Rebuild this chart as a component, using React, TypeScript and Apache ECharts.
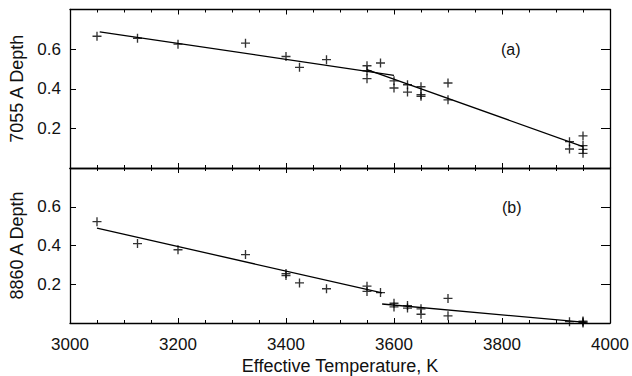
import { useEffect, useRef } from 'react';
import * as echarts from 'echarts';

// Panel (a): 7055 A depth vs effective temperature
const tempsA = [3050, 3125, 3200, 3325, 3400, 3425, 3475, 3550, 3550, 3550, 3575, 3600, 3600, 3625, 3625, 3650, 3650, 3650, 3700, 3700, 3925, 3925, 3950, 3950, 3950, 3950];
const depthsA = [0.665, 0.655, 0.625, 0.63, 0.563, 0.508, 0.547, 0.516, 0.491, 0.451, 0.53, 0.44, 0.404, 0.42, 0.383, 0.41, 0.37, 0.362, 0.429, 0.344, 0.133, 0.096, 0.162, 0.113, 0.094, 0.074];
const fitA1 = [[3055, 0.687], [3600, 0.468]];
const fitA2 = [[3550, 0.497], [3950, 0.108]];

// Panel (b): 8860 A depth vs effective temperature
const tempsB = [3050, 3125, 3200, 3325, 3400, 3400, 3425, 3475, 3550, 3550, 3575, 3600, 3600, 3625, 3625, 3650, 3650, 3700, 3700, 3925, 3950, 3950, 3950];
const depthsB = [0.523, 0.41, 0.378, 0.353, 0.255, 0.245, 0.207, 0.177, 0.19, 0.163, 0.157, 0.102, 0.083, 0.09, 0.077, 0.073, 0.045, 0.127, 0.037, 0.007, 0.01, 0.005, 0.0];
const fitB1 = [[3050, 0.49], [3578, 0.155]];
const fitB2 = [[3578, 0.098], [3955, 0.003]];

const xTicks = { min: 3000, max: 4000, interval: 200 };
const yTicks = { min: 0, max: 0.8, interval: 0.2 };
const panelLabels = ['(a)', '(b)'];
const yNames = ['7055 A Depth', '8860 A Depth'];
const xName = 'Effective Temperature, K';

const FONT = '"Liberation Sans", "DejaVu Sans", sans-serif';
const INK = '#111';
const PLUS = 'path://M4.25,0h1.5v4.25h4.25v1.5h-4.25v4.25h-1.5v-4.25h-4.25v-1.5h4.25z';

function xAxis(gridIndex: number, position: 'top' | 'bottom', labels: boolean, name?: string) {
  return {
    type: 'value',
    gridIndex,
    position,
    ...xTicks,
    name: name ?? '',
    nameLocation: 'middle',
    nameGap: 34,
    nameTextStyle: { fontFamily: FONT, fontSize: 18, color: INK },
    axisLine: { show: true, onZero: false, lineStyle: { color: '#000', width: 1.3 } },
    axisTick: { show: true, inside: true, length: 5, lineStyle: { color: '#000', width: 1 } },
    minorTick: { show: true, splitNumber: 4, length: 3, lineStyle: { color: '#000', width: 1 } },
    axisLabel: {
      show: labels,
      margin: 13,
      fontFamily: FONT,
      fontSize: 17,
      color: INK,
      formatter: (v: number) => String(Math.round(v)),
    },
    splitLine: { show: false },
    minorSplitLine: { show: false },
  };
}

function yAxis(gridIndex: number, position: 'left' | 'right', labels: boolean, name?: string) {
  return {
    type: 'value',
    gridIndex,
    position,
    ...yTicks,
    name: name ?? '',
    nameLocation: 'middle',
    nameGap: 44,
    nameTextStyle: { fontFamily: FONT, fontSize: 18, color: INK },
    axisLine: { show: true, onZero: false, lineStyle: { color: '#000', width: 1.3 } },
    axisTick: { show: true, inside: true, length: position === 'left' ? 6 : 9, lineStyle: { color: '#000', width: 1 } },
    axisLabel: {
      show: labels,
      margin: 9,
      fontFamily: FONT,
      fontSize: 17,
      color: INK,
      formatter: (v: number) => (v <= 0.0001 || v >= 0.7999 ? '' : v.toFixed(1)),
    },
    splitLine: { show: false },
  };
}

function pairs(xs: number[], ys: number[]) {
  return xs.map((x, i) => [x, ys[i]]);
}

function scatter(idx: number, data: number[][]) {
  return {
    type: 'scatter',
    xAxisIndex: idx * 2,
    yAxisIndex: idx * 2,
    data,
    symbol: PLUS,
    symbolSize: 9,
    itemStyle: { color: '#000' },
    silent: true,
  };
}

function fit(idx: number, data: number[][]) {
  return {
    type: 'line',
    xAxisIndex: idx * 2,
    yAxisIndex: idx * 2,
    data,
    showSymbol: false,
    symbol: 'none',
    lineStyle: { color: '#000', width: 1.3 },
    silent: true,
  };
}

export default function App() {
  const ref = useRef<HTMLDivElement>(null);
  useEffect(() => {
    if (!ref.current) return;
    const chart = echarts.init(ref.current, undefined, { renderer: 'svg' });
    chart.setOption({
      animation: false,
      backgroundColor: '#fff',
      grid: [
        { left: 70, top: 9.5, width: 540, height: 158.5 },
        { left: 70, top: 168, width: 540, height: 159.5 },
      ],
      xAxis: [
        xAxis(0, 'bottom', false),
        xAxis(0, 'top', false),
        xAxis(1, 'bottom', true, xName),
        xAxis(1, 'top', false),
      ],
      yAxis: [
        yAxis(0, 'left', true, yNames[0]),
        yAxis(0, 'right', false),
        yAxis(1, 'left', true, yNames[1]),
        yAxis(1, 'right', false),
      ],
      graphic: [
        { type: 'text', left: 501, top: 41, style: { text: panelLabels[0], font: `16px ${FONT}`, fill: INK } },
        { type: 'text', left: 502, top: 199, style: { text: panelLabels[1], font: `16px ${FONT}`, fill: INK } },
      ],
      series: [
        fit(0, fitA1),
        fit(0, fitA2),
        scatter(0, pairs(tempsA, depthsA)),
        fit(1, fitB1),
        fit(1, fitB2),
        scatter(1, pairs(tempsB, depthsB)),
      ],
    });
    return () => chart.dispose();
  }, []);
  return (
    <div
      ref={ref}
      style={{ position: 'fixed', left: 0, top: 0, width: 632, height: 376, background: '#fff' }}
    />
  );
}
